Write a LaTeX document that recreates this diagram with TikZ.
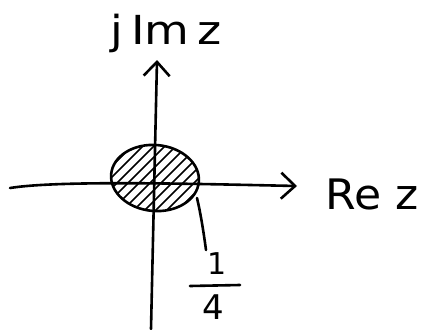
\documentclass[tikz,border=0pt]{standalone}
\usepackage{fontspec}
\setmainfont{DejaVu Sans}
\usetikzlibrary{arrows.meta,shapes.geometric}
\begin{document}
\begin{tikzpicture}[x=1pt,y=-1pt,
  axis/.style={line width=2.6pt,line cap=round,-{Straight Barb[length=14pt,width=26pt,line width=2.6pt]}},
  ink/.style={line width=2.6pt,line cap=round},
  hatch/.style={line width=1.6pt},
  lbl/.style={inner sep=0pt,font=\fontsize{40}{42}\selectfont}]
\useasboundingbox (0,0) rectangle (422,329);
% shaded disk
\begin{scope}
  \clip[rotate around={-5:(155,178)}] (155,178) ellipse (43pt and 32pt);
  \foreach \k in {-66,-55,...,66}
    \draw[hatch] (155+\k-50,178+50) -- (155+\k+50,178-50);
\end{scope}
\node[ink,draw,ellipse,minimum width=88pt,minimum height=66pt,rotate=-5,
  inner sep=0pt] (disk) at (155,178) {};
% axes
\coordinate (xl) at (10,188);
\coordinate (xr) at (297,186);
\coordinate (yb) at (151,329);
\coordinate (yt) at (157,60);
\draw[axis] (xl) .. controls (60,180) and (200,184) .. (xr);
\draw[axis] (yb) -- (yt);
% labels
\node[lbl] (im) at (166,33) {\scalebox{1.15}[1]{j\,Im\,z}};
\node[lbl,font=\fontsize{42}{44}\selectfont] (re) at (372,194) {\scalebox{1.05}[1]{Re z}};
\node[lbl,font=\fontsize{30}{32}\selectfont] (num) at (217,264) {1};
\node[lbl,font=\fontsize{34}{36}\selectfont] (den) at (213,307) {4};
\coordinate (bl) at (190,286);
\coordinate (br) at (240,285);
\draw[ink] (bl) -- (br);
% leader
\coordinate (p) at (197,198);
\coordinate (e) at (206,250);
\draw[ink] (p) .. controls (201,215) and (204,235) .. (e);
\end{tikzpicture}
\end{document}
